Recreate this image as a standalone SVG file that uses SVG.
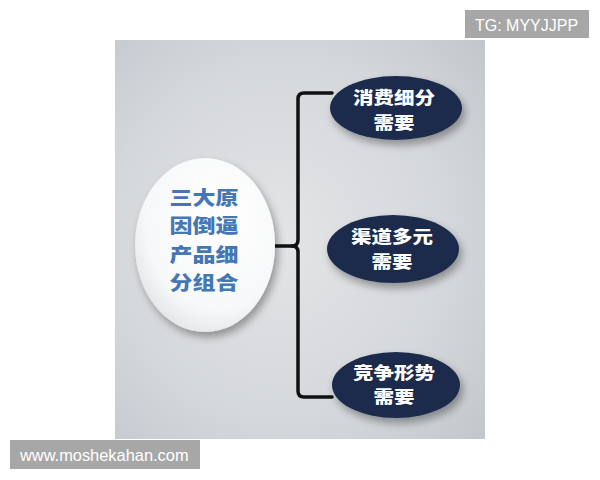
<svg xmlns="http://www.w3.org/2000/svg" width="600" height="480" viewBox="0 0 600 480">
<defs>
<radialGradient id="bg" cx="0.45" cy="0.5" r="0.75">
<stop offset="0" stop-color="#e2e4e6"/>
<stop offset="0.6" stop-color="#d5d8db"/>
<stop offset="1" stop-color="#c2c6ca"/>
</radialGradient>
<radialGradient id="plate" cx="0.6" cy="0.35" r="0.75">
<stop offset="0" stop-color="#ffffff"/>
<stop offset="0.7" stop-color="#f7f8f9"/>
<stop offset="1" stop-color="#dcdfe2"/>
</radialGradient>
<filter id="sh" x="-30%" y="-30%" width="160%" height="170%">
<feGaussianBlur in="SourceAlpha" stdDeviation="4"/>
<feOffset dx="3" dy="5"/>
<feComponentTransfer><feFuncA type="linear" slope="0.35"/></feComponentTransfer>
<feMerge><feMergeNode/><feMergeNode in="SourceGraphic"/></feMerge>
</filter>
</defs>
<style>
.dark{fill:#1d2c4c;}
.wt{fill:#ffffff;font-family:"Noto Sans CJK SC","Noto Sans CJK JP",sans-serif;font-weight:900;font-size:16.8px;text-anchor:middle;}
.bt{fill:#4677b5;font-family:"Noto Sans CJK SC","Noto Sans CJK JP",sans-serif;font-weight:900;font-size:19.5px;text-anchor:middle;}
.line{fill:none;stroke:#111111;stroke-width:3.5;stroke-linecap:round;stroke-linejoin:round;}
.wm{fill:#ffffff;font-family:"Liberation Sans",Arial,sans-serif;}
</style>
<rect x="0" y="0" width="600" height="480" fill="#ffffff"/>
<rect x="115" y="40" width="370" height="399" fill="url(#bg)"/>
<g id="connectors">
<path class="line" d="M332 93 H304 Q298 93 298 99 V240 Q298 246 292 246 Q298 246 298 252 V391 Q298 397 304 397 H332"/>
<path class="line" d="M275 246 H292"/>
</g>
<g id="center">
<ellipse cx="205" cy="245" rx="70" ry="87" fill="url(#plate)" filter="url(#sh)"/>
<text class="bt" x="204" y="205" textLength="69" lengthAdjust="spacingAndGlyphs">三大原</text>
<text class="bt" x="204" y="233.4" textLength="69" lengthAdjust="spacingAndGlyphs">因倒逼</text>
<text class="bt" x="204" y="261.8" textLength="69" lengthAdjust="spacingAndGlyphs">产品细</text>
<text class="bt" x="204" y="290.2" textLength="69" lengthAdjust="spacingAndGlyphs">分组合</text>
</g>
<g id="n1">
<ellipse class="dark" cx="396" cy="108" rx="66" ry="32" filter="url(#sh)"/>
<text class="wt" x="394" y="104" textLength="82" lengthAdjust="spacingAndGlyphs">消费细分</text>
<text class="wt" x="394" y="128.5" textLength="41" lengthAdjust="spacingAndGlyphs">需要</text>
</g>
<g id="n2">
<ellipse class="dark" cx="393" cy="249" rx="66" ry="34" filter="url(#sh)"/>
<text class="wt" x="392" y="243" textLength="82" lengthAdjust="spacingAndGlyphs">渠道多元</text>
<text class="wt" x="392" y="267.5" textLength="41" lengthAdjust="spacingAndGlyphs">需要</text>
</g>
<g id="n3">
<ellipse class="dark" cx="396" cy="385" rx="64" ry="33" filter="url(#sh)"/>
<text class="wt" x="394" y="378.5" textLength="82" lengthAdjust="spacingAndGlyphs">竞争形势</text>
<text class="wt" x="394" y="403" textLength="41" lengthAdjust="spacingAndGlyphs">需要</text>
</g>
<g id="watermarks">
<rect x="465" y="10" width="124" height="28" fill="#a7a7a7"/>
<text class="wm" x="475" y="31" font-size="16">TG: MYYJJPP</text>
<rect x="10" y="440" width="190" height="29" fill="#a7a7a7"/>
<text class="wm" x="20" y="461" font-size="16.4">www.moshekahan.com</text>
</g>
</svg>
